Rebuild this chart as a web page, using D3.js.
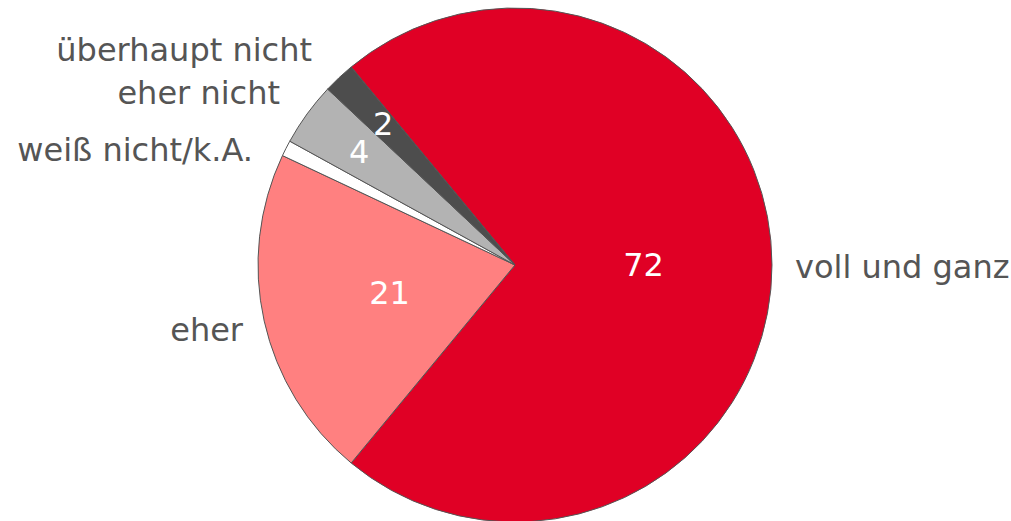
<!DOCTYPE html>
<html>
<head>
<meta charset="utf-8">
<script src="https://cdn.jsdelivr.net/npm/d3@7"></script>
<style>
  html, body { margin: 0; padding: 0; background: #fff; }
  svg { display: block; }
  text { font-family: "DejaVu Sans", Verdana, sans-serif; }
</style>
</head>
<body>
<svg id="chart"></svg>
<script>
const width = 1011;
const height = 521;

// data, in drawing order (clockwise from the top-left edge of the red slice)
const categories = ['voll und ganz', 'eher', 'weiß nicht/k.A.', 'eher nicht', 'überhaupt nicht'];
const values = [72, 21, 1, 4, 2];
const valueLabels = ['72', '21', '', '4', '2'];

const colors = ['#e00025', '#ff8080', '#ffffff', '#b3b3b3', '#4d4d4d'];

const cx = 515, cy = 265, r = 257;
const startDeg = -39.6;

// hand placed category labels (anchor point + alignment)
const labelPos = [
    {x: 795, y: 267, anchor: 'start'},
    {x: 243, y: 330, anchor: 'end'},
    {x: 253, y: 150, anchor: 'end'},
    {x: 280, y: 93, anchor: 'end'},
    {x: 312, y: 50, anchor: 'end'}
];

const svg = d3.select('#chart')
    .attr('width', width)
    .attr('height', height);

const pie = d3.pie()
    .sort(null)
    .value(d => d)
    .startAngle(startDeg * Math.PI / 180)
    .endAngle((startDeg + 360) * Math.PI / 180);

const arcs = pie(values);

const arc = d3.arc().innerRadius(0).outerRadius(r);

const g = svg.append('g').attr('transform', `translate(${cx},${cy})`);

g.selectAll('path.slice')
    .data(arcs)
    .join('path')
    .attr('class', 'slice')
    .attr('d', arc)
    .attr('fill', (d, i) => colors[i])
    .attr('stroke', '#555')
    .attr('stroke-width', 1);

// value labels: big slices at half radius, thin ones further out
g.selectAll('text.val')
    .data(arcs)
    .join('text')
    .attr('class', 'val')
    .attr('transform', (d, i) => {
        const k = values[i] >= 10 ? 0.5 : 0.75;
        const a = (d.startAngle + d.endAngle) / 2;
        return `translate(${Math.sin(a) * r * k},${-Math.cos(a) * r * k})`;
    })
    .attr('text-anchor', 'middle')
    .attr('dominant-baseline', 'central')
    .attr('fill', '#fff')
    .attr('font-size', 32)
    .text((d, i) => valueLabels[i]);

svg.selectAll('text.cat')
    .data(categories)
    .join('text')
    .attr('class', 'cat')
    .attr('x', (d, i) => labelPos[i].x)
    .attr('y', (d, i) => labelPos[i].y)
    .attr('text-anchor', (d, i) => labelPos[i].anchor)
    .attr('dominant-baseline', 'central')
    .attr('fill', '#555')
    .attr('font-size', 32)
    .text(d => d);
</script>
</body>
</html>
